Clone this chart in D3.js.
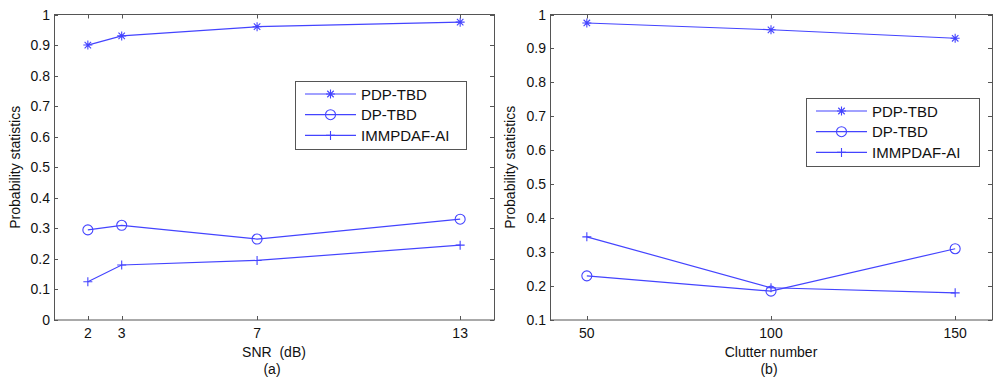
<!DOCTYPE html>
<html>
<head>
<meta charset="utf-8" />
<script src="https://d3js.org/d3.v7.min.js"></script>
<style>
  body { margin: 0; background: #fff; }
  text { font-family: "Liberation Sans", Arial, sans-serif; fill: #111; }
  .frame { fill: none; stroke: #555; stroke-width: 1; }
  .line { fill: none; stroke: #4444ff; stroke-width: 1.2; }
  .mark { fill: none; stroke: #4444ff; stroke-width: 1.1; }
</style>
</head>
<body>
<svg id="chart" width="1000" height="383"></svg>
<script>
// series names
const seriesNames = ["PDP-TBD", "DP-TBD", "IMMPDAF-AI"];
const markers = ["star", "circle", "plus"];

// panel (a): SNR
const snr = [2, 3, 7, 13];
const pdpA = [0.90, 0.93, 0.96, 0.975];
const dpA = [0.295, 0.31, 0.265, 0.33];
const immA = [0.125, 0.18, 0.195, 0.245];
const yTicksA = [0, 0.1, 0.2, 0.3, 0.4, 0.5, 0.6, 0.7, 0.8, 0.9, 1];

// panel (b): clutter number
const clutter = [50, 100, 150];
const pdpB = [0.975, 0.955, 0.93];
const dpB = [0.23, 0.185, 0.31];
const immB = [0.345, 0.195, 0.18];
const yTicksB = [0.1, 0.2, 0.3, 0.4, 0.5, 0.6, 0.7, 0.8, 0.9, 1];

const svg = d3.select("#chart");

function marker(g, type, x, y) {
  const s = 4.5;
  if (type === "circle") {
    g.append("circle").attr("class", "mark").attr("cx", x).attr("cy", y).attr("r", 5);
  } else if (type === "plus") {
    g.append("path").attr("class", "mark")
      .attr("d", `M${x - s},${y}H${x + s}M${x},${y - s}V${y + s}`);
  } else {
    const d = s * 0.72;
    g.append("path").attr("class", "mark")
      .attr("d", `M${x - s},${y}H${x + s}M${x},${y - s}V${y + s}M${x - d},${y - d}L${x + d},${y + d}M${x - d},${y + d}L${x + d},${y - d}`);
  }
}

function panel(opt) {
  const g = svg.append("g");
  const x = d3.scaleLinear().domain(opt.xDomain).range([opt.left, opt.right]);
  const y = d3.scaleLinear().domain(opt.yDomain).range([320, 14.5]);

  g.append("rect").attr("class", "frame")
    .attr("x", opt.left + 0.5).attr("y", 14.5)
    .attr("width", opt.right - opt.left).attr("height", 320 - 14.5);

  // inward ticks on all four sides
  const tl = 4;
  opt.xTicks.forEach(t => {
    const px = Math.round(x(t)) + 0.5;
    g.append("line").attr("class", "frame").attr("x1", px).attr("x2", px).attr("y1", 320).attr("y2", 320 - tl);
    g.append("line").attr("class", "frame").attr("x1", px).attr("x2", px).attr("y1", 14.5).attr("y2", 14.5 + tl);
    g.append("text").attr("x", x(t)).attr("y", 338).attr("text-anchor", "middle")
      .attr("font-size", 14).text(t);
  });
  opt.yTicks.forEach(t => {
    const py = Math.round(y(t)) + 0.5;
    g.append("line").attr("class", "frame").attr("x1", opt.left).attr("x2", opt.left + tl).attr("y1", py).attr("y2", py);
    g.append("line").attr("class", "frame").attr("x1", opt.right).attr("x2", opt.right - tl).attr("y1", py).attr("y2", py);
    g.append("text").attr("x", opt.left - 4).attr("y", y(t) + 5).attr("text-anchor", "end")
      .attr("font-size", 14).text(t === 0 || t === 1 ? t : t.toFixed(1));
  });

  const line = d3.line().x(d => x(d[0])).y(d => y(d[1]));
  opt.series.forEach((vals, i) => {
    const pts = opt.xs.map((v, j) => [v, vals[j]]);
    g.append("path").attr("class", "line").attr("d", line(pts));
    pts.forEach(p => marker(g, markers[i], x(p[0]), y(p[1])));
  });

  // axis labels
  g.append("text").attr("transform", `translate(${opt.yLabelX},${y(d3.mean(opt.yDomain))}) rotate(-90)`)
    .attr("text-anchor", "middle").attr("font-size", 14).text("Probability statistics");
  const cx = (opt.left + opt.right) / 2;
  g.append("text").attr("x", cx).attr("y", 357).attr("text-anchor", "middle")
    .attr("font-size", 14).attr("xml:space", "preserve").style("white-space", "pre").text(opt.xLabel);
  g.append("text").attr("x", cx - 2).attr("y", 374).attr("text-anchor", "middle")
    .attr("font-size", 14).text(opt.caption);

  // legend
  const L = opt.legend;
  g.append("rect").attr("x", L.x + 0.5).attr("y", L.y + 0.5).attr("width", L.w).attr("height", L.h)
    .attr("fill", "#fff").attr("stroke", "#555");
  seriesNames.forEach((name, i) => {
    const ry = L.y + 13 + i * 20.7;
    g.append("line").attr("class", "line").attr("x1", L.x + 10).attr("x2", L.x + 61).attr("y1", ry).attr("y2", ry);
    marker(g, markers[i], L.x + 35.5, ry);
    g.append("text").attr("x", L.x + 66).attr("y", ry + 5.5).attr("font-size", 15).text(name);
  });
}

panel({
  left: 54, right: 494, xDomain: [1, 14], yDomain: [0, 1],
  xTicks: snr, yTicks: yTicksA, xs: snr, series: [pdpA, dpA, immA],
  yLabelX: 20, xLabel: "SNR  (dB)", caption: "(a)",
  legend: { x: 295, y: 81, w: 171, h: 68 }
});

panel({
  left: 550, right: 992, xDomain: [40, 160], yDomain: [0.1, 1],
  xTicks: clutter, yTicks: yTicksB, xs: clutter, series: [pdpB, dpB, immB],
  yLabelX: 515, xLabel: "Clutter number", caption: "(b)",
  legend: { x: 806, y: 98, w: 173, h: 68 }
});
</script>
</body>
</html>
